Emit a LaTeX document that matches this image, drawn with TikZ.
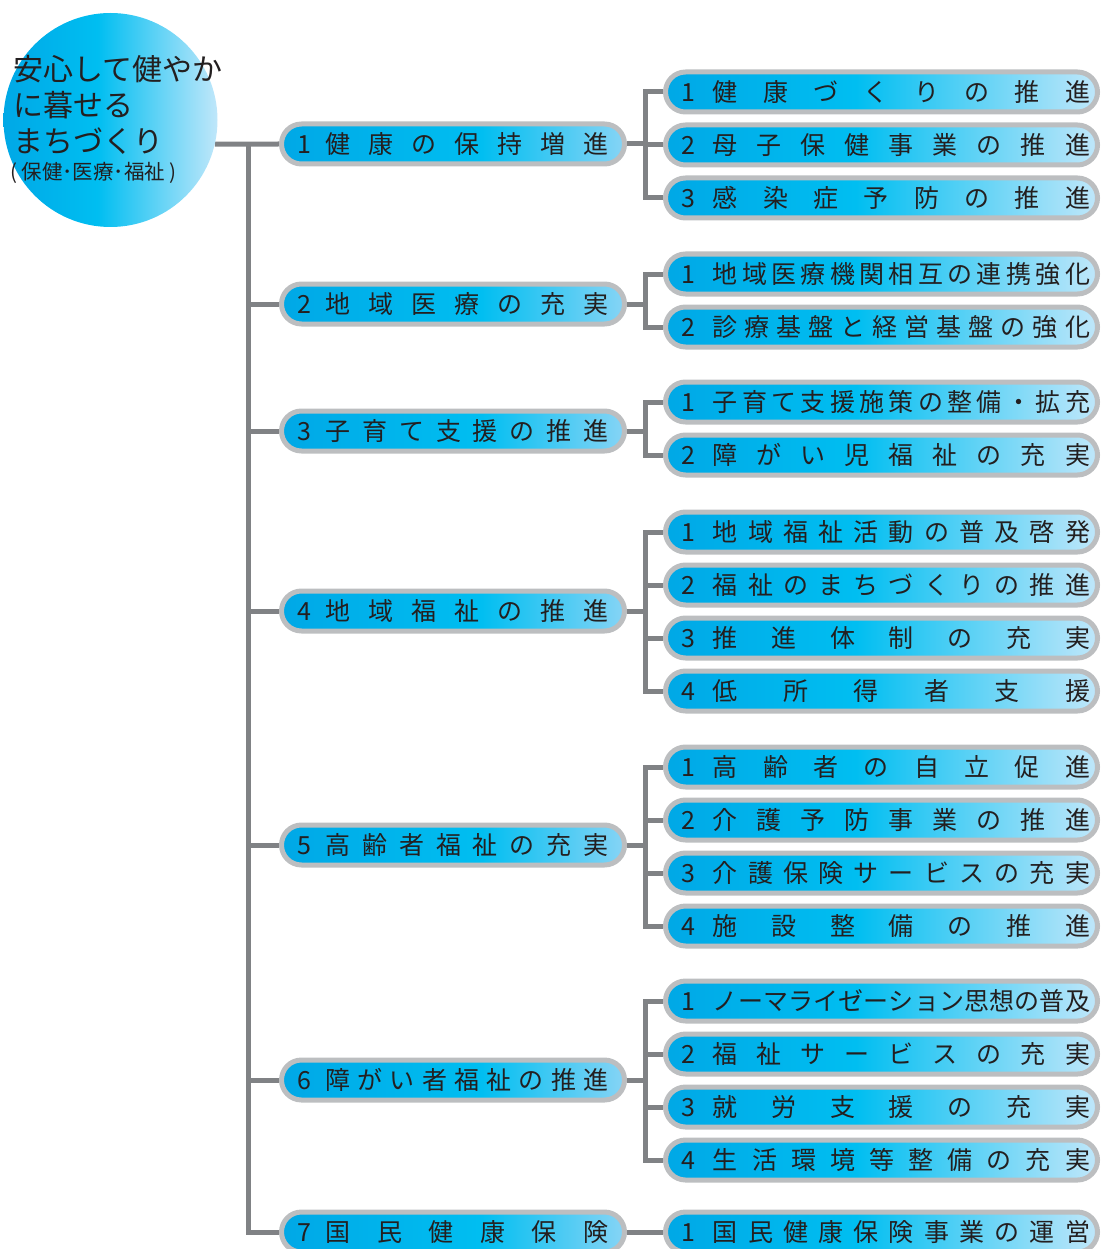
\documentclass[tikz,border=0pt]{standalone}
\usepackage{fontspec}
\setmainfont{Noto Sans CJK JP}
\usetikzlibrary{backgrounds}
\definecolor{conngray}{HTML}{808285}
\definecolor{bordgray}{HTML}{BCBEC0}
\definecolor{txt}{HTML}{231F20}
\definecolor{cdeep}{HTML}{00A8E6}
\definecolor{cbright}{HTML}{00BEF1}
\definecolor{cpale}{HTML}{C0E7FA}
\definecolor{cmidpale}{HTML}{86D4F5}
\pgfdeclarehorizontalshading{childshade}{100bp}{color(0bp)=(cdeep); color(25bp)=(cdeep); color(47bp)=(cbright); color(75bp)=(cpale); color(100bp)=(cpale)}
\pgfdeclarehorizontalshading{mainshade}{100bp}{color(0bp)=(cdeep); color(25bp)=(cdeep); color(54bp)=(cbright); color(75bp)=(cmidpale); color(100bp)=(cmidpale)}
\pgfdeclarehorizontalshading{circshade}{100bp}{color(0bp)=(cdeep); color(25bp)=(cdeep); color(47bp)=(cbright); color(75bp)=(cpale); color(100bp)=(cpale)}
\def\distA#1{#1\distB}
\def\distB#1{\ifx#1\relax\else\hfill#1\expandafter\distB\fi}
\newcommand\lbl[4]{\makebox[#1][l]{#3\hspace{#2}\distA#4\relax}}
\newcommand\mainlbl[2]{\lbl{311pt}{14pt}{#1}{#2}}
\newcommand\sublbl[2]{\hspace*{8pt}\lbl{409pt}{18pt}{#1}{#2}}
\tikzset{
  mainbox/.style={draw=bordgray, line width=5pt, shade, shading=mainshade, rounded corners=20pt,
    minimum width=343pt, minimum height=40pt, inner sep=0pt, text=txt, font=\fontsize{25}{30}\selectfont},
  subbox/.style={draw=bordgray, line width=5pt, shade, shading=childshade, rounded corners=20pt,
    minimum width=432pt, minimum height=40pt, inner sep=0pt, text=txt, font=\fontsize{25}{30}\selectfont},
  conn/.style={draw=conngray, line width=5pt},
  ctext/.style={anchor=base west, inner sep=0pt, text=txt},
}
\begin{document}
\begin{tikzpicture}[x=1pt,y=-1pt]
\useasboundingbox (0,0) rectangle (1100,1249);
\begin{scope}
\clip (0,0) rectangle (1100,1249);
% root circle
\node[circle, minimum size=214pt, inner sep=0pt, shade, shading=circshade] (c) at (110.5,120) {};
\node[ctext, font=\fontsize{30}{36}\selectfont] (t1) at (13,81) {安心して健やか};
\node[ctext, font=\fontsize{30}{36}\selectfont] (t2) at (13,117) {に暮せる};
\node[ctext, font=\fontsize{30}{36}\selectfont] (t3) at (13,153) {まちづくり};
\node[ctext, font=\fontsize{20.5}{24}\selectfont] (t4) at (10,180) {( 保健･医療･福祉 )};
\coordinate (T) at (248,0);
\coordinate (S) at (645,0);
% level 1
\node[mainbox] (L1) at (453,144) {\mainlbl{1}{健康の保持増進}};
\node[mainbox] (L2) at (453,304) {\mainlbl{2}{地域医療の充実}};
\node[mainbox] (L3) at (453,431) {\mainlbl{3}{子育て支援の推進}};
\node[mainbox] (L4) at (453,611) {\mainlbl{4}{地域福祉の推進}};
\node[mainbox] (L5) at (453,845) {\mainlbl{5}{高齢者福祉の充実}};
\node[mainbox] (L6) at (453,1080) {\mainlbl{6}{障がい者福祉の推進}};
\node[mainbox] (L7) at (453,1232) {\mainlbl{7}{国民健康保険}};
% level 2
\node[subbox] (A1) at (881.5,92) {\sublbl{1}{健康づくりの推進}};
\node[subbox] (A2) at (881.5,145) {\sublbl{2}{母子保健事業の推進}};
\node[subbox] (A3) at (881.5,198) {\sublbl{3}{感染症予防の推進}};
\node[subbox] (B1) at (881.5,274) {\sublbl{1}{地域医療機関相互の連携強化}};
\node[subbox] (B2) at (881.5,327) {\sublbl{2}{診療基盤と経営基盤の強化}};
\node[subbox] (C1) at (881.5,402) {\sublbl{1}{子育て支援施策の整備・拡充}};
\node[subbox] (C2) at (881.5,455) {\sublbl{2}{障がい児福祉の充実}};
\node[subbox] (D1) at (881.5,532) {\sublbl{1}{地域福祉活動の普及啓発}};
\node[subbox] (D2) at (881.5,585) {\sublbl{2}{福祉のまちづくりの推進}};
\node[subbox] (D3) at (881.5,638) {\sublbl{3}{推進体制の充実}};
\node[subbox] (D4) at (881.5,691) {\sublbl{4}{低所得者支援}};
\node[subbox] (E1) at (881.5,767) {\sublbl{1}{高齢者の自立促進}};
\node[subbox] (E2) at (881.5,820) {\sublbl{2}{介護予防事業の推進}};
\node[subbox] (E3) at (881.5,873) {\sublbl{3}{介護保険サービスの充実}};
\node[subbox] (E4) at (881.5,926) {\sublbl{4}{施設整備の推進}};
\node[subbox] (F1) at (881.5,1001) {\sublbl{1}{ノーマライゼーション思想の普及}};
\node[subbox] (F2) at (881.5,1054) {\sublbl{2}{福祉サービスの充実}};
\node[subbox] (F3) at (881.5,1107) {\sublbl{3}{就労支援の充実}};
\node[subbox] (F4) at (881.5,1160) {\sublbl{4}{生活環境等整備の充実}};
\node[subbox] (G1) at (881.5,1232) {\sublbl{1}{国民健康保険事業の運営}};
\end{scope}
\begin{pgfonlayer}{background}
% trunk
\draw[conn] (c.-13) -- (L1.west);
\draw[conn] (T |- L1.west) -- (T |- L7.west) -- (L7.west);
\foreach \n in {L2,L3,L4,L5,L6} \draw[conn] (T |- \n.west) -- (\n.west);
% group 1
\draw[conn] (L1.east) -- (S |- L1.east);
\draw[conn] (A1.west) -- (S |- A1.west) -- (S |- A3.west) -- (A3.west);
\draw[conn] (S |- A2.west) -- (A2.west);
% group 2
\draw[conn] (L2.east) -- (S |- L2.east);
\draw[conn] (B1.west) -- (S |- B1.west) -- (S |- B2.west) -- (B2.west);
% group 3
\draw[conn] (L3.east) -- (S |- L3.east);
\draw[conn] (C1.west) -- (S |- C1.west) -- (S |- C2.west) -- (C2.west);
% group 4
\draw[conn] (L4.east) -- (S |- L4.east);
\draw[conn] (D1.west) -- (S |- D1.west) -- (S |- D4.west) -- (D4.west);
\draw[conn] (S |- D2.west) -- (D2.west);
\draw[conn] (S |- D3.west) -- (D3.west);
% group 5
\draw[conn] (L5.east) -- (S |- L5.east);
\draw[conn] (E1.west) -- (S |- E1.west) -- (S |- E4.west) -- (E4.west);
\draw[conn] (S |- E2.west) -- (E2.west);
\draw[conn] (S |- E3.west) -- (E3.west);
% group 6
\draw[conn] (L6.east) -- (S |- L6.east);
\draw[conn] (F1.west) -- (S |- F1.west) -- (S |- F4.west) -- (F4.west);
\draw[conn] (S |- F2.west) -- (F2.west);
\draw[conn] (S |- F3.west) -- (F3.west);
% group 7
\draw[conn] (L7.east) -- (G1.west);
\end{pgfonlayer}
\end{tikzpicture}
\end{document}
